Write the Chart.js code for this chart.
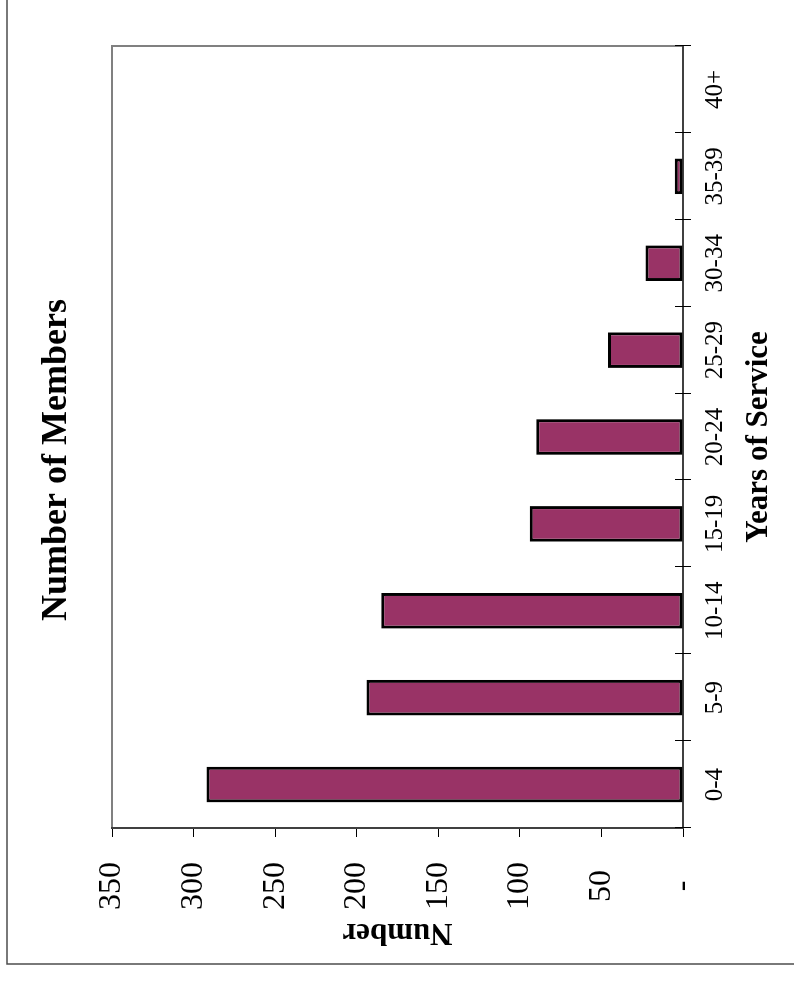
<!DOCTYPE html>
<html>
<head>
<meta charset="utf-8">
<script src="https://cdn.jsdelivr.net/npm/chart.js@4"></script>
<style>
html, body { margin: 0; padding: 0; background: #fff; overflow: hidden; }
/* the chart is printed sideways: draw it upright, then turn the page */
#page {
    position: absolute; left: 0; top: 0;
    width: 981px; height: 794px;
    transform-origin: 0 0;
    transform: translate(0, 981px) rotate(-90deg);
}
#membersChart { display: block; }
</style>
</head>
<body>
<div id="page"><canvas id="membersChart" width="981" height="794"></canvas></div>
<script>
const categories = ["0-4", "5-9", "10-14", "15-19", "20-24", "25-29", "30-34", "35-39", "40+"];
const members = [292, 194, 185, 94, 90, 46, 23, 5, 0];
const yMax = 350;
const yStep = 50;

const serif = '"Liberation Serif", "Times New Roman", serif';

const framePlugin = {
    id: 'frame',
    beforeDraw(chart) {
        const ctx = chart.ctx;
        ctx.save();
        // page border
        ctx.strokeStyle = '#4d4d4d';
        ctx.lineWidth = 1.5;
        ctx.beginPath();
        ctx.moveTo(chart.width, 7);
        ctx.lineTo(17, 7);
        ctx.lineTo(17, chart.height);
        ctx.stroke();
        // plot area outline (top and right)
        const a = chart.chartArea;
        ctx.strokeStyle = '#808080';
        ctx.lineWidth = 2;
        ctx.beginPath();
        ctx.moveTo(a.left, a.top);
        ctx.lineTo(a.right, a.top);
        ctx.lineTo(a.right, a.bottom);
        ctx.stroke();
        // chart title
        ctx.fillStyle = '#000';
        ctx.font = 'bold 36px ' + serif;
        ctx.textAlign = 'center';
        ctx.textBaseline = 'middle';
        ctx.fillText('Number of Members', 521, 57);
        ctx.restore();
    },
    afterDraw(chart) {
        // category tick marks crossing the axis
        const ctx = chart.ctx;
        const x = chart.scales.x;
        const n = categories.length;
        const step = (x.right - x.left) / n;
        ctx.save();
        ctx.strokeStyle = '#000';
        ctx.lineWidth = 1;
        ctx.beginPath();
        for (let i = 0; i <= n; i++) {
            const px = Math.round(x.left + i * step) + 0.5;
            ctx.moveTo(px, x.top - 8);
            ctx.lineTo(px, x.top + 8);
        }
        ctx.stroke();
        ctx.restore();
    }
};

const membersChart = new Chart(document.getElementById('membersChart'), {
    type: 'bar',
    data: {
        labels: categories,
        datasets: [{
            label: 'Number',
            data: members,
            backgroundColor: '#993366',
            borderColor: '#000',
            borderWidth: 3,
            borderSkipped: false,
            barPercentage: 0.41,
            categoryPercentage: 1,
        }],
    },
    options: {
        responsive: false,
        animation: false,
        devicePixelRatio: 1,
        layout: { padding: { left: 29.5, right: 46, top: 112, bottom: 10 } },
        plugins: {
            legend: { display: false },
            title: { display: false },
            tooltip: { enabled: false },
        },
        scales: {
            x: {
                grid: { display: true, drawOnChartArea: false, drawTicks: false },
                border: { display: true, color: '#404040', width: 2 },
                ticks: {
                    padding: 17, color: '#000', maxRotation: 0, autoSkip: false,
                    font: { family: serif, size: 25 },
                },
                title: {
                    display: true, text: 'Years of Service', color: '#000',
                    font: { family: serif, size: 31, weight: 'bold', lineHeight: 1 },
                    padding: { top: 0, bottom: 9.5 },
                },
                afterFit(scale) { scale.height = 101; },
            },
            y: {
                min: 0,
                max: yMax,
                grid: { drawOnChartArea: false, drawTicks: true, tickLength: 9, color: '#000', tickColor: '#000', lineWidth: 1 },
                border: { display: true, color: '#404040', width: 2 },
                ticks: {
                    stepSize: yStep, padding: 25, crossAlign: 'center', color: '#000',
                    font: { family: serif, size: 32 },
                    callback: function (v) { return v === 0 ? '-' : v; },
                },
                title: {
                    display: true, text: 'Number', color: '#000',
                    font: { family: serif, size: 31, weight: 'bold', lineHeight: 1 },
                    padding: { top: 4, bottom: 4 },
                },
                afterFit(scale) { scale.width = 123.5; },
            },
        },
    },
    plugins: [framePlugin],
});
</script>
</body>
</html>
